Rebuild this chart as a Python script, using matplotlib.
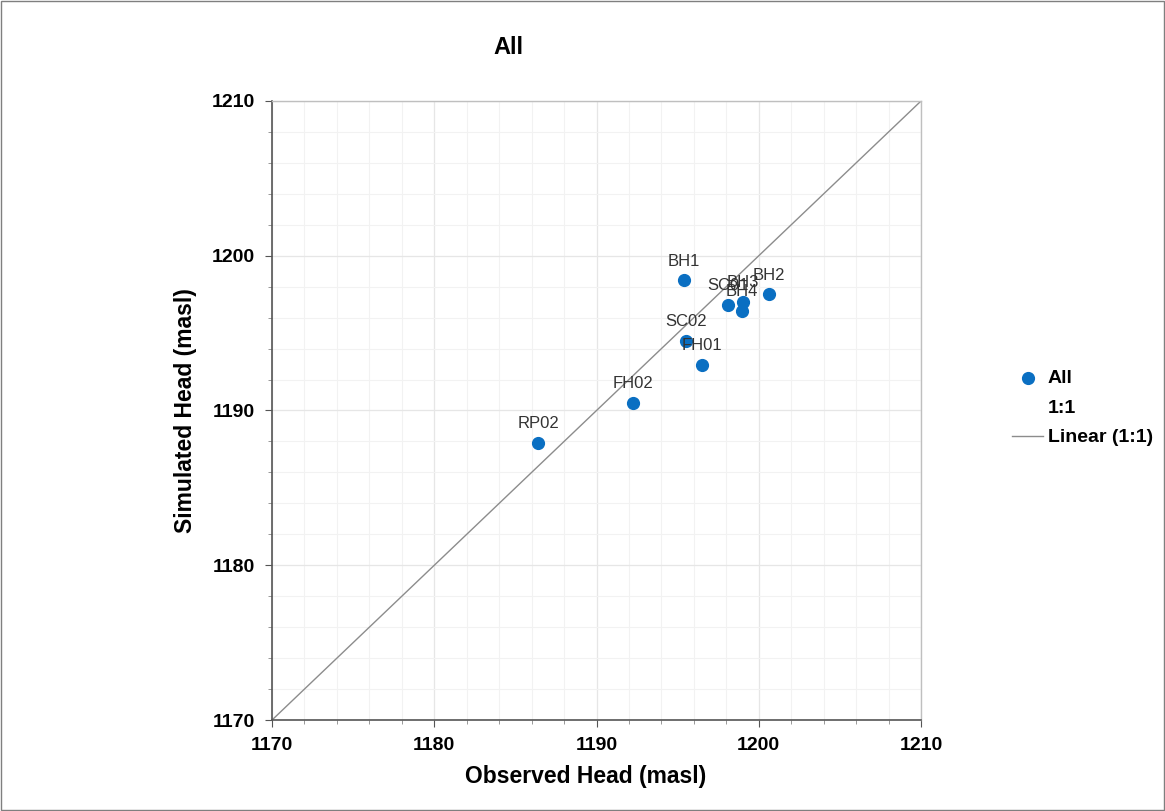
import matplotlib

matplotlib.use("Agg")
import matplotlib.pyplot as plt
from matplotlib.ticker import MultipleLocator

plt.rcParams["font.family"] = ["Liberation Sans", "DejaVu Sans"]

# observed vs simulated heads (masl)
wells = ["BH1", "BH2", "SC01", "BH3", "BH4", "SC02", "FH01", "FH02", "RP02"]
observed = [1195.4, 1200.6, 1198.1, 1199.0, 1198.95, 1195.5, 1196.5, 1192.25, 1186.4]
simulated = [1198.4, 1197.5, 1196.8, 1197.0, 1196.45, 1194.5, 1192.95, 1190.5, 1187.9]
one_to_one = [1170, 1210]

fig = plt.figure(figsize=(11.65, 8.11), dpi=100)
ax = fig.add_axes([0.2335, 0.1122, 0.5571, 0.7633])

ax.plot(one_to_one, one_to_one, color="#8c8c8c", lw=1.0, label="Linear (1:1)", zorder=2)
ax.scatter(observed, simulated, s=72, color="#0a6fc2", label="All", zorder=3)
for name, x, y in zip(wells, observed, simulated):
    ax.annotate(name, (x, y), xytext=(0, 8.5), textcoords="offset points",
                ha="center", va="bottom", fontsize=12, color="#333333", zorder=4)

ax.set_xlim(1170, 1210)
ax.set_ylim(1170, 1210)
ax.xaxis.set_major_locator(MultipleLocator(10))
ax.yaxis.set_major_locator(MultipleLocator(10))
ax.xaxis.set_minor_locator(MultipleLocator(2))
ax.yaxis.set_minor_locator(MultipleLocator(2))
ax.grid(which="major", color="#e6e6e6", lw=0.9)
ax.grid(which="minor", color="#f2f2f2", lw=0.8)
ax.set_axisbelow(True)
ax.tick_params(which="major", length=5, color="#555555", labelsize=14)
ax.tick_params(axis="x", which="major", pad=7.5)
ax.tick_params(axis="y", which="major", pad=7)
ax.tick_params(which="minor", length=3, color="#888888")
for lab in ax.get_xticklabels() + ax.get_yticklabels():
    lab.set_fontweight("bold")
for side in ["left", "bottom"]:
    ax.spines[side].set_color("#555555")
    ax.spines[side].set_linewidth(1.2)
for side in ["top", "right"]:
    ax.spines[side].set_color("#bfbfbf")
    ax.spines[side].set_linewidth(1.0)

ax.set_xlabel("Observed Head (masl)", fontsize=16.5, fontweight="bold")
ax.set_ylabel("Simulated Head (masl)", fontsize=16.5, fontweight="bold")
ax.xaxis.set_label_coords(0.483, -0.072)
ax.yaxis.set_label_coords(-0.116, 0.5)
fig.text(0.436, 0.941, "All", fontsize=17, fontweight="bold", ha="center", va="center")

# legend: All, 1:1 (no marker), Linear (1:1)
handles, labels = ax.get_legend_handles_labels()
blank = plt.Line2D([], [], color="none")
order = [labels.index("All"), labels.index("Linear (1:1)")]
leg = fig.legend([handles[order[0]], blank, handles[order[1]]],
                 ["All", "1:1", "Linear (1:1)"],
                 loc="center left", bbox_to_anchor=(0.8687, 0.497),
                 frameon=False, fontsize=14, handlelength=1.6,
                 handletextpad=0.25, labelspacing=0.62,
                 borderpad=0, borderaxespad=0)
for t in leg.get_texts():
    t.set_fontweight("bold")

fig.patches.append(plt.Rectangle((0.001, 0.001), 0.998, 0.998, transform=fig.transFigure,
                                 fill=False, edgecolor="#7f7f7f", lw=1.0))
fig.savefig("out.png", dpi=100)
